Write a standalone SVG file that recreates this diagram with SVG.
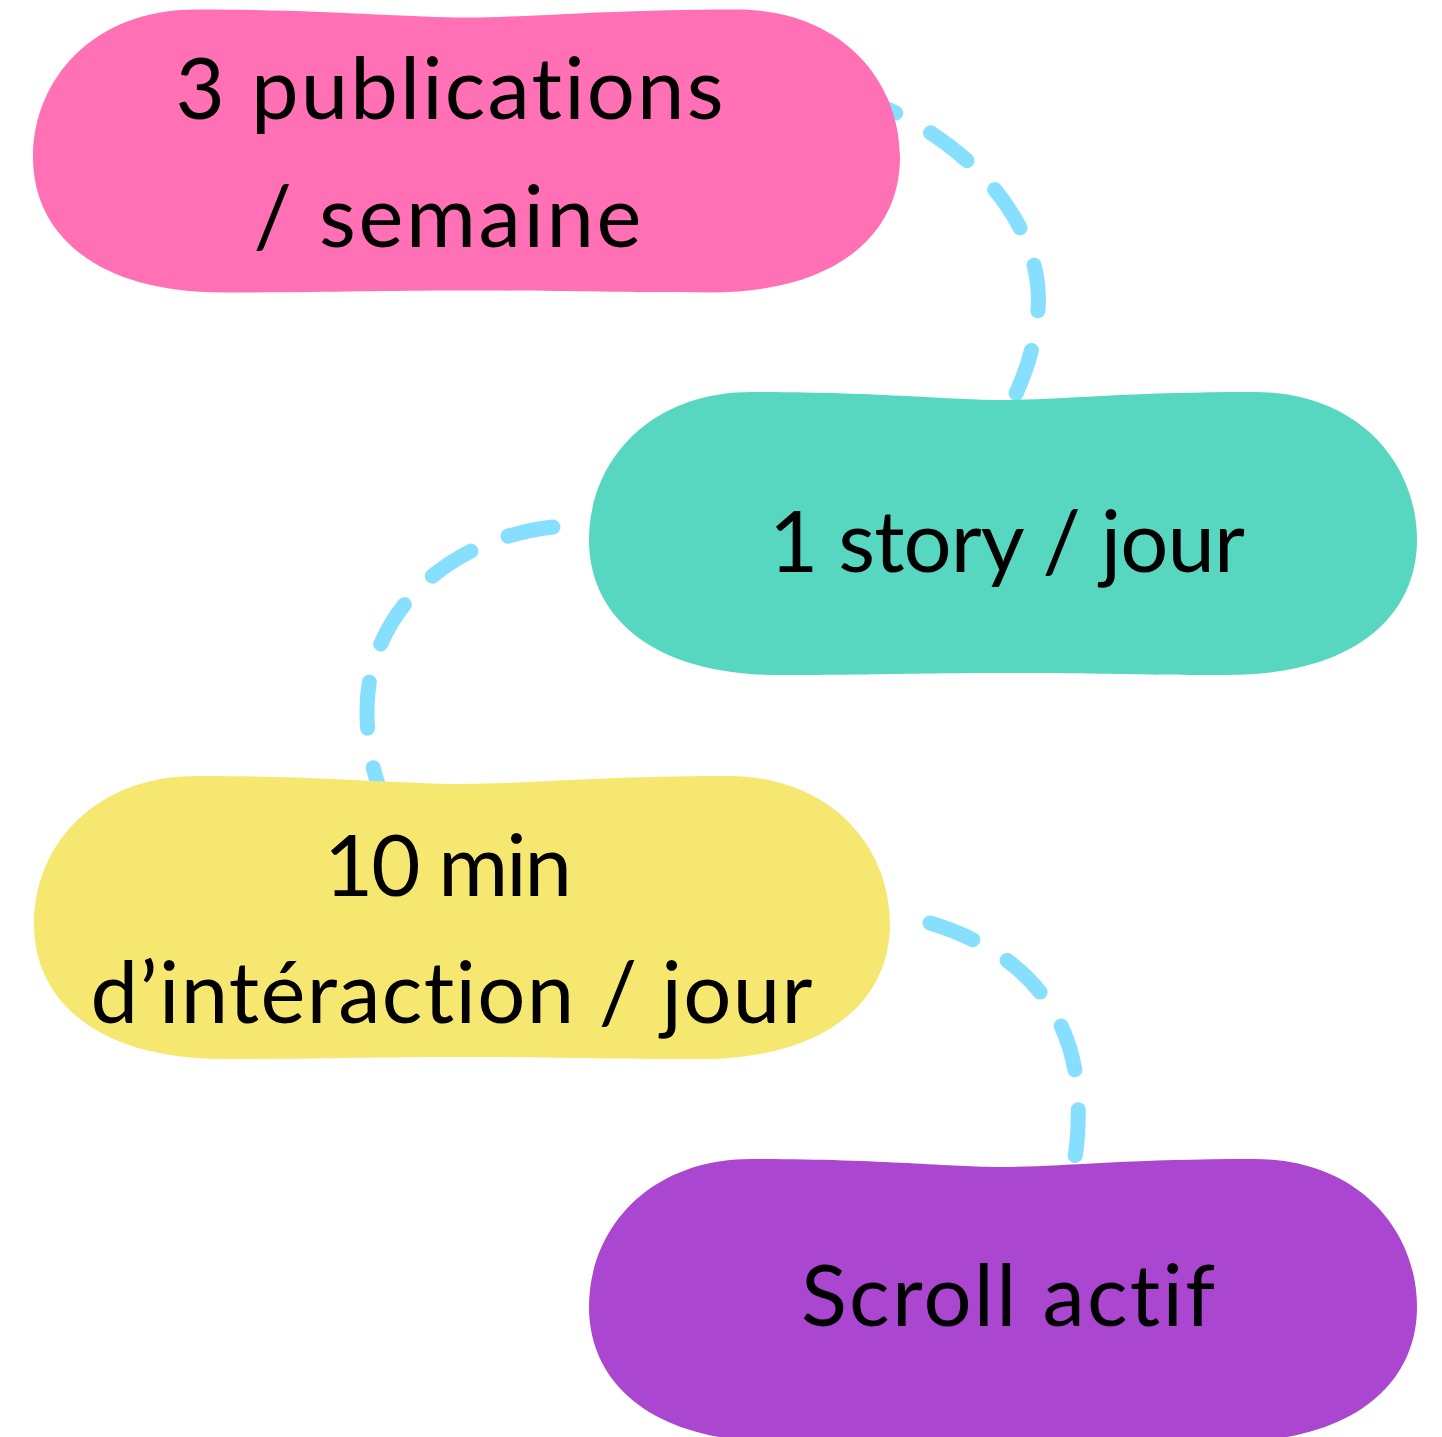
<svg xmlns="http://www.w3.org/2000/svg" width="1442" height="1437" viewBox="0 0 1442 1437">
<style>
.conn{fill:none;stroke:#86DFFF;stroke-width:15;stroke-linecap:round;stroke-dasharray:46 40}
.lbl{font-family:Lato,"Noto Sans","Liberation Sans",sans-serif;font-size:85px;fill:#000;text-anchor:middle;font-variant-ligatures:none;font-feature-settings:"liga" 0,"clig" 0}
</style>
<rect width="1442" height="1437" fill="#fff"/>
<g id="connectors">
<path class="conn" d="M853,96 C960,130 1045,220 1038,310 C1035,345 1027,370 1014,398"/>
<path class="conn" d="M553,527 C440,540 367,620 367,710 C367,745 372,770 382,795"/>
<path class="conn" d="M930,923 C1020,950 1075,1010 1078,1100 C1079,1130 1077,1150 1072,1172"/>
</g>
<g id="node-publications">
<path transform="translate(33,9.5)" fill="#FF70B4" d="M165,0 C290,0 370,8 433.5,8 C497,8 577,0 702,0 C807,-1 867,70 867,148 C867,222 807,283 677,283 C567,283 533.5,281 433.5,281 C333.5,281 300,283 190,283 C60,283 0,222 0,148 C0,70 60,-1 165,0Z"/>
<text class="lbl" x="449.5" y="119" textLength="548" lengthAdjust="spacing">3 publications</text>
<text class="lbl" x="447.5" y="247" textLength="388" lengthAdjust="spacing">/ semaine</text>
</g>
<g id="node-story">
<path transform="translate(589,392)" fill="#58D7C0" d="M165,0 C290,0 360,8 414,8 C468,8 538,0 663,0 C768,-1 828,70 828,148 C828,222 768,283 638,283 C528,283 514,281 414,281 C314,281 300,283 190,283 C60,283 0,222 0,148 C0,70 60,-1 165,0Z"/>
<text class="lbl" x="1007" y="572" textLength="476" lengthAdjust="spacing">1 story / jour</text>
</g>
<g id="node-interaction">
<path transform="translate(34,776)" fill="#F6E770" d="M165,0 C290,0 365,8 428,8 C491,8 566,0 691,0 C796,-1 856,70 856,148 C856,222 796,283 666,283 C556,283 528,281 428,281 C328,281 300,283 190,283 C60,283 0,222 0,148 C0,70 60,-1 165,0Z"/>
<text class="lbl" x="448" y="896" textLength="248" lengthAdjust="spacing">10 min</text>
<text class="lbl" x="451.5" y="1023" textLength="722" lengthAdjust="spacing">d’intéraction / jour</text>
</g>
<g id="node-scroll">
<path transform="translate(589,1159)" fill="#AA46D0" d="M165,0 C290,0 360,8 414,8 C468,8 538,0 663,0 C768,-1 828,70 828,148 C828,222 768,283 638,283 C528,283 514,281 414,281 C314,281 300,283 190,283 C60,283 0,222 0,148 C0,70 60,-1 165,0Z"/>
<text class="lbl" x="1008" y="1326" textLength="414" lengthAdjust="spacing">Scroll actif</text>
</g>
</svg>
